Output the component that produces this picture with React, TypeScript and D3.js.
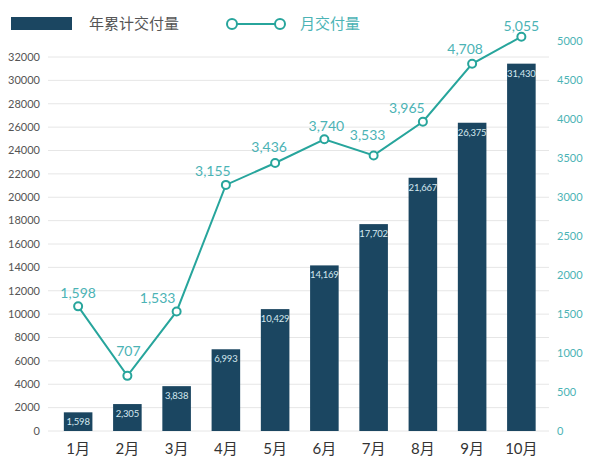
import React, { useEffect, useRef } from 'react';
import * as d3 from 'd3';

const months = ['1月', '2月', '3月', '4月', '5月', '6月', '7月', '8月', '9月', '10月'];
const cumulative = [1598, 2305, 3838, 6993, 10429, 14169, 17702, 21667, 26375, 31430];
const monthly = [1598, 707, 1533, 3155, 3436, 3740, 3533, 3965, 4708, 5055];
const leftTicks = d3.range(0, 32001, 2000);
const rightTicks = d3.range(0, 5001, 500);

const BAR = '#1b4661';
const TEAL = '#27a59c';
const TEAL_TEXT = '#4bb3b5';

const App = () => {
  const ref = useRef<SVGSVGElement>(null);

  useEffect(() => {
    const svg = d3.select(ref.current);
    svg.selectAll('*').remove();
    const font = 'Lato, "Noto Sans CJK SC", sans-serif';

    const x = d3.scaleBand().domain(months).range([53.5, 546]).paddingInner(0.42).paddingOuter(0.21);
    const yL = d3.scaleLinear().domain([0, 32000]).range([431, 57]);
    const yR = d3.scaleLinear().domain([0, 5000]).range([431, 41]);

    // gridlines
    svg.append('g')
      .selectAll('line')
      .data(leftTicks)
      .join('line')
      .attr('x1', 48)
      .attr('x2', 549)
      .attr('y1', d => yL(d))
      .attr('y2', d => yL(d))
      .attr('stroke', '#e6e6e6')
      .attr('stroke-width', 1);

    // left axis labels
    svg.append('g')
      .selectAll('text')
      .data(leftTicks)
      .join('text')
      .attr('x', 40)
      .attr('y', d => yL(d))
      .attr('dy', '0.35em')
      .attr('text-anchor', 'end')
      .attr('font-family', font)
      .attr('font-size', 11)
      .attr('fill', '#555')
      .text(d => d);

    // right axis labels
    svg.append('g')
      .selectAll('text')
      .data(rightTicks)
      .join('text')
      .attr('x', 557)
      .attr('y', d => yR(d))
      .attr('dy', '0.35em')
      .attr('font-family', font)
      .attr('font-size', 11)
      .attr('fill', TEAL_TEXT)
      .text(d => d);

    // bars
    svg.append('g')
      .selectAll('rect')
      .data(cumulative)
      .join('rect')
      .attr('x', (d, i) => x(months[i])!)
      .attr('y', d => yL(d))
      .attr('width', x.bandwidth())
      .attr('height', d => yL(0) - yL(d))
      .attr('fill', BAR);

    svg.append('g')
      .selectAll('text')
      .data(cumulative)
      .join('text')
      .attr('x', (d, i) => x(months[i])! + x.bandwidth() / 2)
      .attr('y', d => Math.min(yL(d) + 13, 426))
      .attr('text-anchor', 'middle')
      .attr('font-family', font)
      .attr('font-size', 9.5)
      .attr('letter-spacing', -0.2)
      .attr('fill', '#d4e8ef')
      .text(d => d3.format(',')(d));

    // month labels
    svg.append('g')
      .selectAll('text')
      .data(months)
      .join('text')
      .attr('x', d => x(d)! + x.bandwidth() / 2)
      .attr('y', 454)
      .attr('text-anchor', 'middle')
      .attr('font-family', font)
      .attr('font-size', 15)
      .attr('fill', '#333')
      .text(d => d);

    // monthly line
    const cx = (i: number) => x(months[i])! + x.bandwidth() / 2;
    const line = d3.line<number>()
      .x((d, i) => cx(i))
      .y(d => yR(d));

    svg.append('path')
      .datum(monthly)
      .attr('d', line)
      .attr('fill', 'none')
      .attr('stroke', TEAL)
      .attr('stroke-width', 2);

    svg.append('g')
      .selectAll('circle')
      .data(monthly)
      .join('circle')
      .attr('cx', (d, i) => cx(i))
      .attr('cy', d => yR(d))
      .attr('r', 4)
      .attr('fill', '#fff')
      .attr('stroke', TEAL)
      .attr('stroke-width', 2);

    // label offsets (center of text relative to point), moved off the line
    const nudge: [number, number][] = [
      [0, -13], [1, -25], [-19, -13], [-13, -14], [-6, -16],
      [2, -13], [-6, -20], [-16, -14], [-7, -15], [0, -11],
    ];
    svg.append('g')
      .selectAll('text')
      .data(monthly)
      .join('text')
      .attr('x', (d, i) => cx(i) + nudge[i][0])
      .attr('y', (d, i) => yR(d) + nudge[i][1])
      .attr('dy', '0.35em')
      .attr('text-anchor', 'middle')
      .attr('font-family', font)
      .attr('font-size', 14)
      .attr('fill', TEAL_TEXT)
      .text(d => d3.format(',')(d));

    // legend
    const legend = svg.append('g');
    legend.append('rect')
      .attr('x', 11)
      .attr('y', 17)
      .attr('width', 61)
      .attr('height', 13)
      .attr('fill', BAR);
    legend.append('text')
      .attr('x', 89)
      .attr('y', 24)
      .attr('dy', '0.35em')
      .attr('font-family', font)
      .attr('font-size', 15)
      .attr('fill', '#555')
      .text('年累计交付量');
    legend.append('line')
      .attr('x1', 232)
      .attr('x2', 280)
      .attr('y1', 24)
      .attr('y2', 24)
      .attr('stroke', TEAL)
      .attr('stroke-width', 2);
    legend.selectAll('circle')
      .data([232, 280])
      .join('circle')
      .attr('cx', d => d)
      .attr('cy', 24)
      .attr('r', 5)
      .attr('fill', '#fff')
      .attr('stroke', TEAL)
      .attr('stroke-width', 2);
    legend.append('text')
      .attr('x', 300)
      .attr('y', 24)
      .attr('dy', '0.35em')
      .attr('font-family', font)
      .attr('font-size', 15)
      .attr('fill', TEAL_TEXT)
      .text('月交付量');
  });

  return (
    <svg
      ref={ref}
      width={599}
      height={473}
      style={{ position: 'absolute', left: 0, top: 0, background: '#fff' }}
    />
  );
};

export default App;
